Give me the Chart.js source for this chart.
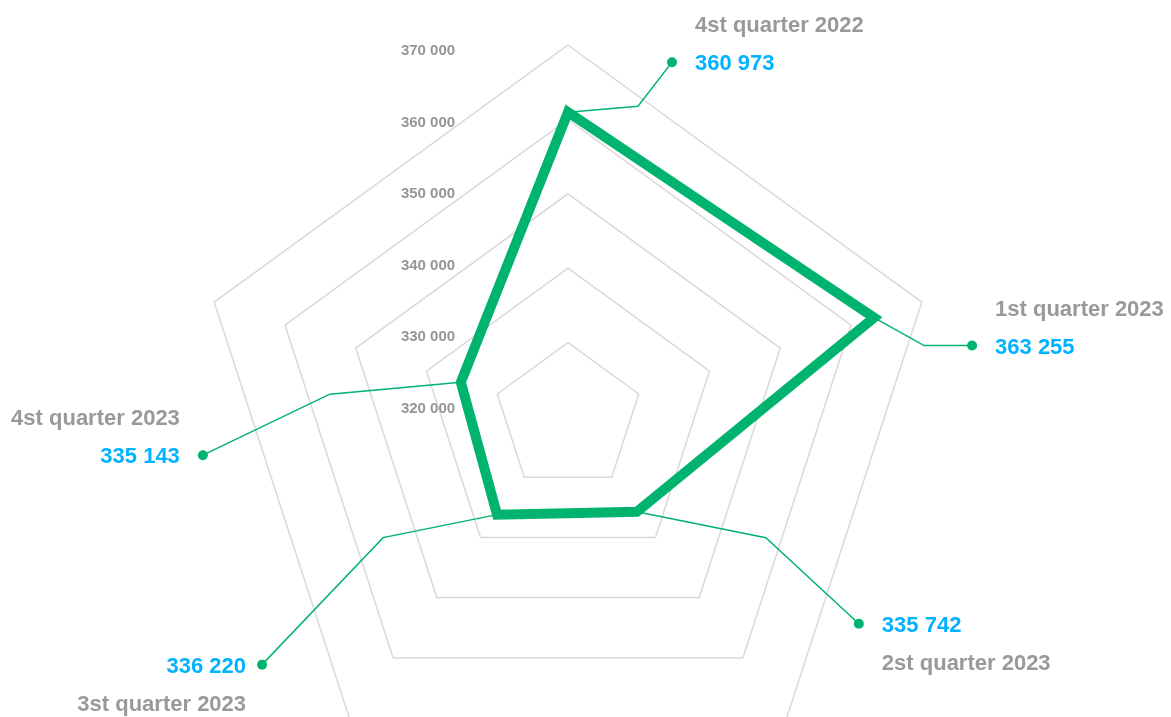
<!DOCTYPE html>
<html lang="en">
<head>
  <meta charset="utf-8">
  <title>Quarterly radar</title>
  <script src="https://cdn.jsdelivr.net/npm/chart.js@4/dist/chart.umd.min.js"></script>
  <style>
    html, body { margin: 0; padding: 0; background: #fff; overflow: hidden; }
    #wrap { width: 1171px; height: 800px; }
  </style>
</head>
<body>
<div id="wrap"><canvas id="radar" width="1171" height="800"></canvas></div>
<script>
var quarters = ['4st quarter 2022', '1st quarter 2023', '2st quarter 2023', '3st quarter 2023', '4st quarter 2023'];
var amounts = [360973, 363255, 335742, 336220, 335143];
var tickValues = [320000, 330000, 340000, 350000, 360000, 370000];

// callout layout, offsets from the data point: bend of the leader, end dot, text side and gap
var callouts = [
  { bend: [70, -6],   dot: [104, -50],  side: 'right', gap: 23, above: true },
  { bend: [50, 28],   dot: [98, 28],    side: 'right', gap: 23, above: true },
  { bend: [129, 26],  dot: [222, 112],  side: 'right', gap: 23, above: false },
  { bend: [-114, 23], dot: [-235, 150], side: 'left',  gap: 16, above: false },
  { bend: [-131, 12], dot: [-258, 73],  side: 'left',  gap: 23, above: true }
];

var green = '#00b36e';
var grey = '#999999';
var blue = '#00b2ff';

function fmt(n) {
  return String(n).replace(/\B(?=(\d{3})+(?!\d))/g, ' ');
}

var calloutPlugin = {
  id: 'callouts',
  beforeDatasetsDraw: function(chart) {
    var ctx = chart.ctx;
    var pts = chart.getDatasetMeta(0).data;
    ctx.save();
    ctx.strokeStyle = green;
    ctx.fillStyle = green;
    ctx.lineWidth = 1.5;
    pts.forEach(function(p, i) {
      var c = callouts[i];
      var bx = p.x + c.bend[0], by = p.y + c.bend[1];
      var dx = p.x + c.dot[0], dy = p.y + c.dot[1];
      ctx.beginPath();
      ctx.moveTo(p.x, p.y);
      ctx.lineTo(bx, by);
      ctx.lineTo(dx, dy);
      ctx.stroke();
      ctx.beginPath();
      ctx.arc(dx, dy, 5, 0, Math.PI * 2);
      ctx.fill();
    });
    ctx.restore();
  },
  afterDraw: function(chart) {
    var ctx = chart.ctx;
    var scale = chart.scales.r;
    var pts = chart.getDatasetMeta(0).data;
    ctx.save();
    // tick labels, left of the top spoke
    ctx.font = 'bold 15px "Liberation Sans", Arial, sans-serif';
    ctx.fillStyle = '#969696';
    ctx.textAlign = 'center';
    ctx.textBaseline = 'middle';
    tickValues.forEach(function(v) {
      var d = scale.getDistanceFromCenterForValue(v);
      ctx.fillText(fmt(v), scale.xCenter - 140, scale.yCenter - d * 0.963 - 8);
    });
    // quarter names and values
    ctx.font = 'bold 22px "Liberation Sans", Arial, sans-serif';
    ctx.textBaseline = 'alphabetic';
    pts.forEach(function(p, i) {
      var c = callouts[i];
      var dx = p.x + c.dot[0], dy = p.y + c.dot[1];
      var x = c.side === 'right' ? dx + c.gap : dx - c.gap;
      ctx.textAlign = c.side === 'right' ? 'left' : 'right';
      var vy = dy + 8;
      ctx.fillStyle = blue;
      ctx.fillText(fmt(amounts[i]), x, vy);
      ctx.fillStyle = grey;
      ctx.fillText(quarters[i], x, c.above ? vy - 38 : vy + 38);
    });
    ctx.restore();
  }
};

var ctx = document.getElementById('radar').getContext('2d');
var chart = new Chart(ctx, {
  type: 'radar',
  data: {
    labels: quarters,
    datasets: [{
      data: amounts,
      borderColor: green,
      borderWidth: 10,
      backgroundColor: 'transparent',
      fill: false,
      pointRadius: 0,
      pointHoverRadius: 0
    }]
  },
  options: {
    responsive: false,
    animation: false,
    devicePixelRatio: 1,
    layout: { padding: { top: 45, left: 196, right: 230, bottom: 10 } },
    plugins: { legend: { display: false }, tooltip: { enabled: false } },
    scales: {
      r: {
        min: 320000,
        max: 370000,
        ticks: { display: false, stepSize: 10000 },
        grid: { color: '#d9d9d9', lineWidth: 1.5 },
        angleLines: { display: false },
        pointLabels: { display: false }
      }
    }
  },
  plugins: [calloutPlugin]
});
</script>
</body>
</html>
